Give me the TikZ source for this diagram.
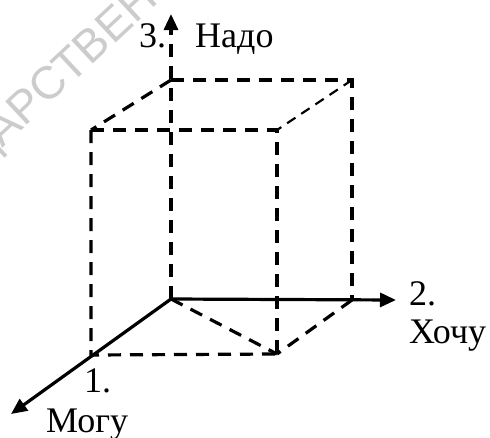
\documentclass[tikz,border=0pt]{standalone}
\usepackage{fontspec}
\setmainfont{Liberation Serif}
\newfontfamily\wmfont{Liberation Sans}
\usetikzlibrary{arrows.meta}
\begin{document}
\begin{tikzpicture}[x=1pt, y=-1pt,
    edge/.style={line width=3.2pt, dash pattern=on 13pt off 9pt},
    thinedge/.style={line width=2.2pt, dash pattern=on 10pt off 7pt},
    axis/.style={line width=3.2pt, -{Triangle[length=16pt,width=14pt]}},
    every node/.style={inner sep=0pt, font=\fontsize{36}{42}\selectfont}]
\clip (0,0) rectangle (490,437);
\node[text=black!20, font=\wmfont\fontsize{46}{48}\selectfont, rotate=43] (wm) at (74,66) {ДАРСТВЕНН};
% corners
\coordinate (o) at (171,299);
\coordinate (b1) at (171,80);
\coordinate (b2) at (352,80);
\coordinate (b3) at (352,300);
\coordinate (f1) at (91,130);
\coordinate (f2) at (277,130);
\coordinate (f3) at (277,354);
\coordinate (f4) at (91,355);
% axis ends
\coordinate (zend) at (171,14);
\coordinate (xend) at (396,300);
\coordinate (yend) at (11,414);
% labels
\node[anchor=base west] (n3) at (139,47) {3.};
\node[anchor=base west] (nado) at (195,47) {Надо};
\node[anchor=base west] (n2) at (409,305) {2.};
\node[anchor=base west] (hochu) at (409,343) {Хочу};
\node[anchor=base west] (n1) at (84,392) {1.};
\node[anchor=base west] (mogu) at (46,432) {Могу};
% cube
\draw[edge] (b1) -- (b2) -- (b3);
\draw[edge] (b1) -- (f1);
\draw[thinedge] (b2) -- (f2);
\draw[edge] (f1) -- (f2) -- (f3);
\draw[edge] (f1) -- (f4) -- (f3);
\draw[edge] (o) -- (f3);
\draw[edge] (b3) -- (f3);
% axes
\draw[axis, dash pattern=on 13pt off 9pt] (o) -- (zend);
\draw[axis] (o) -- (xend);
\draw[axis] (o) -- (yend);
\end{tikzpicture}
\end{document}
